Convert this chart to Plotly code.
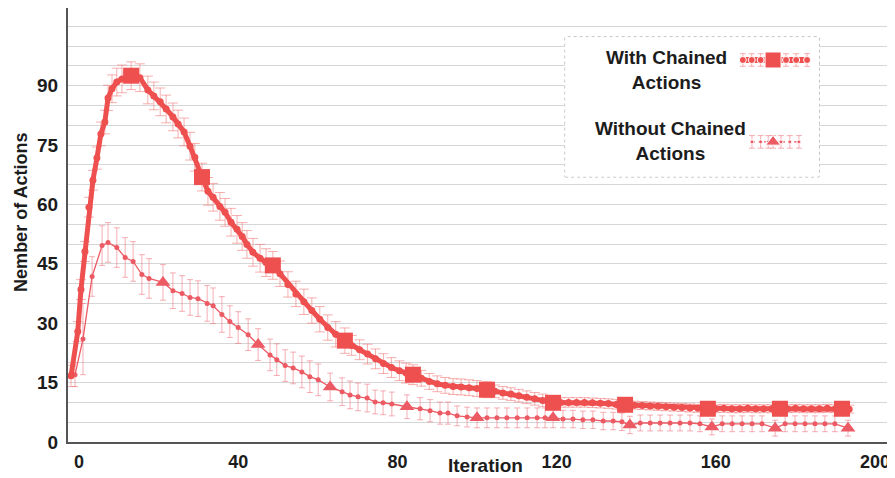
import plotly.graph_objects as go

# ---------------- data ----------------
chained_x = [-2.0, -0.3, 0.5, 1.5, 2.5, 3.5, 4.5, 5.5, 6.5, 7.3, 8.3, 9.5, 10.8, 13.1,
             15.3, 17.3, 18.8, 20.4, 21.9, 23.6, 24.9, 26.4, 27.9, 29.1, 30.9,
             32.4, 33.7, 35.4, 36.7, 38.2, 39.7, 41.0, 42.2, 43.7, 45.5, 47.0, 48.7,
             50.5, 52.5, 54.5, 56.5, 58.5, 60.5, 62.5, 64.5, 66.8,
             68.5, 70.5, 72.5, 74.5, 76.5, 78.5, 80.5, 82.2, 83.9,
             86.0, 88.0, 90.0, 92.0, 94.0, 96.0, 98.0, 100.0, 102.5,
             104.5, 106.5, 108.5, 110.5, 112.5, 114.5, 116.5, 119.1,
             121.0, 123.0, 125.0, 127.0, 129.0, 131.0, 133.0, 135.0, 137.2,
             139.5, 141.5, 143.5, 145.5, 147.5, 149.5, 151.5, 153.5, 155.5, 158.0,
             160.0, 162.0, 164.0, 166.0, 168.0, 170.0, 172.0, 174.0, 176.1,
             178.0, 180.0, 182.0, 184.0, 186.0, 188.0, 190.0, 191.7, 193.5]
chained_y = [16.7, 27.9, 38.5, 48.1, 59.3, 66.1, 71.7, 77.8, 80.8, 86.9, 89.2, 90.9, 91.7, 92.5,
             92.0, 88.9, 87.4, 85.9, 84.1, 82.1, 80.3, 78.3, 74.7, 71.9, 66.9,
             63.3, 61.8, 59.5, 58.0, 55.5, 53.7, 51.9, 49.9, 47.9, 46.4, 45.3, 44.6,
             42.5, 39.8, 37.4, 35.4, 33.2, 31.0, 28.9, 27.2, 25.6,
             24.4, 23.3, 22.2, 21.0, 19.8, 18.8, 18.0, 17.4, 17.0,
             16.1, 15.3, 14.7, 14.3, 14.0, 13.9, 13.7, 13.5, 13.2,
             12.8, 12.4, 12.1, 11.7, 11.3, 10.9, 10.5, 9.9,
             10.0, 10.0, 10.0, 10.0, 9.9, 9.8, 9.7, 9.5, 9.4,
             9.3, 9.2, 9.1, 9.0, 8.9, 8.8, 8.7, 8.6, 8.5, 8.4,
             8.4, 8.5, 8.4, 8.4, 8.5, 8.4, 8.4, 8.4, 8.4,
             8.4, 8.5, 8.4, 8.4, 8.4, 8.5, 8.4, 8.4, 8.3]
chained_err = [2.7, 2.5, 2.5, 2.5, 2.5, 2.5, 2.8, 3.0, 3.0, 3.2, 3.5, 3.5, 3.5, 3.5,
               3.5, 3.5, 3.5, 3.5, 3.5, 3.5, 3.5, 3.5, 3.5, 3.5, 3.5,
               3.5, 3.5, 3.5, 3.5, 3.5, 3.5, 3.5, 3.5, 3.5, 3.5, 3.5, 3.5,
               3.2, 3.2, 3.2, 3.2, 3.2, 3.2, 3.2, 3.2, 3.2,
               2.5, 2.5, 2.5, 2.5, 2.5, 2.5, 2.5, 2.5, 2.5,
               2.0, 2.0, 2.0, 2.0, 2.0, 2.0, 2.0, 2.0, 2.0,
               1.6, 1.6, 1.6, 1.6, 1.6, 1.6, 1.6, 1.6,
               1.2, 1.2, 1.2, 1.2, 1.2, 1.2, 1.2, 1.2, 1.2,
               1.0, 1.0, 1.0, 1.0, 1.0, 1.0, 1.0, 1.0, 1.0, 1.0,
               1.0, 1.0, 1.0, 1.0, 1.0, 1.0, 1.0, 1.0, 1.0,
               1.0, 1.0, 1.0, 1.0, 1.0, 1.0, 1.0, 1.0, 1.0]
chained_marked = [13.1, 30.9, 48.7, 66.8, 83.9, 102.5, 119.1, 137.2, 158.0, 176.1, 191.7]

plain_x = [-1.0, 1.0, 3.3, 5.8, 7.3, 9.5, 11.6, 13.6, 15.8, 17.6, 21.1,
           23.6, 25.9, 27.9, 29.9, 32.2, 33.7, 35.9, 37.9, 40.0, 42.5, 45.0,
           48.0, 49.7, 51.8, 53.8, 56.0, 58.0, 60.1, 63.1,
           66.1, 68.1, 70.1, 72.4, 74.4, 76.4, 78.6, 82.4,
           85.7, 88.2, 90.7, 92.7, 95.0, 97.5, 100.0,
           102.5, 105.0, 107.5, 110.1, 112.6, 115.1, 117.1, 119.1,
           121.6, 124.1, 126.6, 129.1, 131.7, 134.2, 136.4, 138.4,
           141.0, 143.5, 146.0, 148.5, 151.0, 153.5, 156.0, 159.0,
           161.6, 164.1, 166.6, 169.1, 171.6, 174.9,
           177.4, 179.9, 182.4, 184.9, 187.4, 189.9, 193.2]
plain_y = [17.0, 26.0, 41.8, 49.6, 50.4, 49.1, 46.6, 45.6, 42.3, 41.3, 40.3,
           38.2, 37.5, 36.5, 36.2, 35.0, 34.4, 32.2, 30.4, 28.9, 27.1, 24.6,
           22.0, 20.8, 19.3, 18.7, 17.7, 16.5, 15.7, 13.9,
           12.7, 11.9, 11.4, 11.1, 10.1, 9.9, 9.6, 8.9,
           8.4, 7.9, 7.3, 7.3, 6.6, 6.3, 6.1,
           6.1, 6.1, 6.1, 6.1, 6.1, 6.1, 6.1, 6.1,
           5.8, 5.8, 5.6, 5.6, 5.3, 5.3, 5.1, 4.3,
           4.8, 4.8, 4.8, 4.8, 4.8, 4.8, 4.6, 3.8,
           4.6, 4.6, 4.6, 4.6, 4.6, 3.5,
           4.6, 4.6, 4.6, 4.6, 4.6, 4.6, 3.5]
plain_err = [3.0, 9.0, 5.0, 5.0, 5.0, 5.0, 5.0, 5.0, 5.0, 5.0, 4.5,
             4.5, 4.5, 4.5, 4.5, 4.5, 4.5, 4.5, 4.0, 4.0, 4.0, 4.0,
             4.0, 4.0, 4.0, 4.0, 4.0, 4.0, 4.0, 3.5,
             3.5, 3.5, 3.5, 3.5, 3.0, 3.0, 3.0, 3.0,
             2.8, 2.8, 2.8, 2.8, 2.5, 2.5, 2.5,
             2.5, 2.5, 2.5, 2.5, 2.5, 2.5, 2.5, 2.5,
             2.2, 2.2, 2.2, 2.2, 2.2, 2.2, 2.2, 2.2,
             2.0, 2.0, 2.0, 2.0, 2.0, 2.0, 2.0, 2.0,
             2.0, 2.0, 2.0, 2.0, 2.0, 2.0,
             2.0, 2.0, 2.0, 2.0, 2.0, 2.0, 2.0]
plain_marked = [21.1, 45.0, 63.1, 82.4, 100.0, 119.1, 138.4, 159.0, 174.9, 193.2]

x_ticks = [0, 40, 80, 120, 160, 200]
y_ticks = [0, 15, 30, 45, 60, 75, 90]

series_names = ["With Chained<br>Actions", "Without Chained<br>Actions"]

# legend swatch samples (local 0..1 coordinates inside the legend box)
swatch1_x = [0.70, 0.735, 0.77, 0.819, 0.87, 0.91, 0.953]
swatch1_y = [0.836] * 7
swatch2_x = [0.736, 0.77, 0.80, 0.819, 0.85, 0.885, 0.921]
swatch2_y = [0.25] * 7

RED = "#ee4f4f"
RED2 = "#ec5a64"
ERR1 = "rgba(240,110,110,0.55)"
ERR2 = "rgba(236,110,120,0.55)"
TXT = "#1c1c1c"
FONT = "Liberation Sans, Arial, sans-serif"

fig = go.Figure()

fig.add_trace(go.Scatter(
    x=plain_x, y=plain_y, mode="lines+markers", name="Without Chained Actions",
    line=dict(color=RED2, width=1.3),
    marker=dict(color=RED2, opacity=1, line=dict(width=0),
                size=[13 if v in plain_marked else 5 for v in plain_x],
                symbol=["triangle-up" if v in plain_marked else "circle" for v in plain_x]),
    error_y=dict(type="data", array=plain_err, color=ERR2, thickness=1, width=3),
))

fig.add_trace(go.Scatter(
    x=chained_x, y=chained_y, mode="lines+markers", name="With Chained Actions",
    line=dict(color=RED, width=5),
    marker=dict(color=RED, opacity=1, line=dict(width=0),
                size=[16 if v in chained_marked else 7 for v in chained_x],
                symbol=["square" if v in chained_marked else "circle" for v in chained_x]),
    error_y=dict(type="data", array=chained_err, color=ERR1, thickness=1, width=5),
))

# legend swatches
fig.add_trace(go.Scatter(
    x=swatch1_x, y=swatch1_y, xaxis="x2", yaxis="y2", mode="lines+markers",
    showlegend=False, hoverinfo="skip",
    line=dict(color=RED, width=6),
    marker=dict(color=RED, opacity=1, size=[7, 7, 7, 16, 7, 7, 7],
                symbol=["circle", "circle", "circle", "square", "circle", "circle", "circle"]),
    error_y=dict(type="constant", value=0.045, color=ERR1, thickness=1, width=3),
))
fig.add_trace(go.Scatter(
    x=swatch2_x, y=swatch2_y, xaxis="x2", yaxis="y2", mode="lines+markers",
    showlegend=False, hoverinfo="skip",
    line=dict(color=RED2, width=1.3, dash="dot"),
    marker=dict(color=RED2, opacity=1, size=[4, 4, 4, 13, 4, 4, 4],
                symbol=["circle", "circle", "circle", "triangle-up", "circle", "circle", "circle"]),
    error_y=dict(type="constant", value=0.045, color=ERR2, thickness=1, width=3),
))

# the page body adds an 8px offset, so the figure is 8px smaller and its
# left/top margins 8px smaller to keep the plot area where the reference has it
fig.update_layout(
    template="none",
    width=887, height=470,
    margin=dict(l=60, r=8, t=0, b=36),
    paper_bgcolor="white", plot_bgcolor="white",
    showlegend=False,
    font=dict(family=FONT, color=TXT),
    xaxis=dict(range=[-2.76, 203.0], tickmode="array", tickvals=x_ticks,
               automargin=False,
               showgrid=False, zeroline=False, showline=True,
               linecolor="#555555", linewidth=2, ticks="",
               tickfont=dict(size=18, weight="bold", color=TXT, family=FONT),
               ticklabelstandoff=2),
    yaxis=dict(range=[0, 109.6], tickmode="array", tickvals=y_ticks,
               automargin=False,
               showgrid=True, gridcolor="#d6d6d6", gridwidth=1,
               minor=dict(tickmode="linear", tick0=0, dtick=5, showgrid=True,
                          gridcolor="#d6d6d6", gridwidth=1),
               zeroline=False, showline=True, linecolor="#555555", linewidth=2,
               ticks="", tickfont=dict(size=19, weight="bold", color=TXT, family=FONT),
               ticklabelstandoff=4),
    xaxis2=dict(domain=[0.607, 0.917], anchor="y2", range=[0, 1], visible=False),
    yaxis2=dict(domain=[0.611, 0.933], anchor="x2", range=[0, 1], visible=False),
    shapes=[dict(type="rect", xref="paper", yref="paper",
                 x0=0.607, x1=0.917, y0=0.611, y1=0.933,
                 line=dict(color="#8a8a8a", width=1, dash="dot"),
                 fillcolor="white", layer="between")],
    annotations=[
        dict(text="Iteration", xref="paper", yref="paper", x=0.510, y=-0.053,
             showarrow=False, xanchor="center", yanchor="middle",
             font=dict(size=19, weight="bold", color=TXT, family=FONT)),
        dict(text="Nember of Actions", xref="paper", yref="paper", x=-0.0575, y=0.53,
             showarrow=False, textangle=-90, xanchor="center", yanchor="middle",
             font=dict(size=18, weight="bold", color=TXT, family=FONT)),
        dict(text=series_names[0], xref="paper", yref="paper", x=0.731, y=0.857,
             showarrow=False, xanchor="center", yanchor="middle", align="center",
             font=dict(size=19, weight="bold", color=TXT, family=FONT)),
        dict(text=series_names[1], xref="paper", yref="paper", x=0.736, y=0.694,
             showarrow=False, xanchor="center", yanchor="middle", align="center",
             font=dict(size=19, weight="bold", color=TXT, family=FONT)),
    ],
)

fig.write_html("out.html")
